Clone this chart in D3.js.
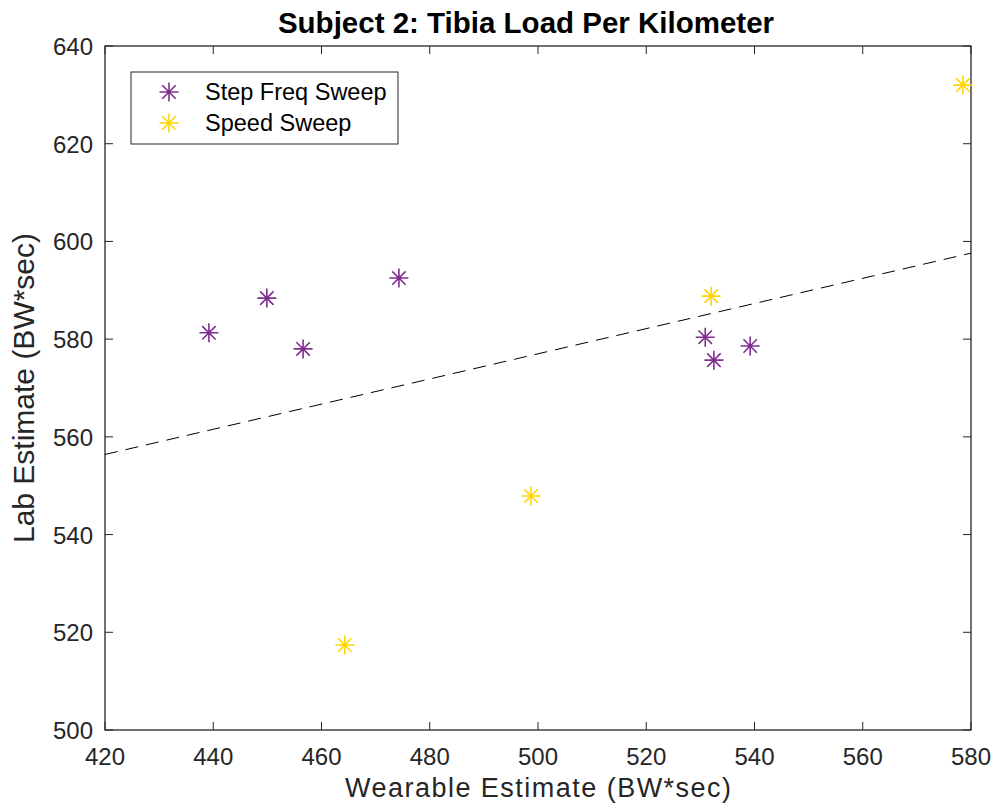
<!DOCTYPE html>
<html><head><meta charset="utf-8">
<script src="https://cdn.jsdelivr.net/npm/d3@7"></script>
<style>body{margin:0;background:#fff}svg{display:block}</style>
</head><body>
<script>
const stepX = [439.2, 449.9, 456.6, 474.3, 530.9, 532.5, 539.2];
const stepY = [581.3, 588.4, 578.0, 592.5, 580.4, 575.7, 578.6];
const speedX = [578.5, 532.0, 498.7, 464.3];
const speedY = [632.0, 588.8, 547.9, 517.4];
const fitX = [420, 580];
const fitY = [556.4, 597.6];
const xTicks = [420, 440, 460, 480, 500, 520, 540, 560, 580];
const yTicks = [500, 520, 540, 560, 580, 600, 620, 640];
const seriesNames = ["Step Freq Sweep", "Speed Sweep"];
const colors = ["#7E2F8E", "#FFD500"];

const W = 998, H = 812;
const m = {l: 105, t: 46, r: 971, b: 730};
const svg = d3.select("body").append("svg").attr("width", W).attr("height", H)
  .style("font-family", "'Liberation Sans', Arial, Helvetica, sans-serif");

const x = d3.scaleLinear().domain([420, 580]).range([m.l, m.r]);
const y = d3.scaleLinear().domain([500, 640]).range([m.b, m.t]);
const axColor = "#262626";

// ticks on all four sides (inward)
const tl = 8;
const g = svg.append("g").attr("stroke", axColor).attr("stroke-width", 1);
xTicks.forEach(v => {
  g.append("line").attr("x1", x(v)).attr("x2", x(v)).attr("y1", m.b).attr("y2", m.b - tl);
  g.append("line").attr("x1", x(v)).attr("x2", x(v)).attr("y1", m.t).attr("y2", m.t + tl);
});
yTicks.forEach(v => {
  g.append("line").attr("y1", y(v)).attr("y2", y(v)).attr("x1", m.l).attr("x2", m.l + tl);
  g.append("line").attr("y1", y(v)).attr("y2", y(v)).attr("x1", m.r).attr("x2", m.r - tl);
});
svg.append("rect").attr("x", m.l).attr("y", m.t).attr("width", m.r - m.l).attr("height", m.b - m.t)
  .attr("fill", "none").attr("stroke", axColor).attr("stroke-width", 1.3);

// tick labels
svg.append("g").selectAll("text").data(xTicks).join("text")
  .attr("x", d => x(d)).attr("y", 765).attr("text-anchor", "middle")
  .attr("font-size", 24).attr("fill", axColor).text(d => d);
svg.append("g").selectAll("text").data(yTicks).join("text")
  .attr("x", 93).attr("y", d => y(d) + 9).attr("text-anchor", "end")
  .attr("font-size", 24).attr("fill", axColor).text(d => d);

// axis titles
svg.append("text").attr("x", (m.l + m.r) / 2).attr("y", 797).attr("text-anchor", "middle")
  .attr("font-size", 27).attr("fill", axColor)
  .attr("textLength", 386).attr("lengthAdjust", "spacing").text("Wearable Estimate (BW*sec)");
svg.append("text").attr("transform", `translate(34,${(m.t + m.b) / 2}) rotate(-90)`)
  .attr("text-anchor", "middle").attr("font-size", 30).attr("fill", axColor).text("Lab Estimate (BW*sec)");
svg.append("text").attr("x", 526).attr("y", 33).attr("text-anchor", "middle")
  .attr("font-size", 29.5).attr("font-weight", "bold").attr("fill", "#000").text("Subject 2: Tibia Load Per Kilometer");

// fit line
svg.append("line").attr("x1", x(fitX[0])).attr("y1", y(fitY[0])).attr("x2", x(fitX[1])).attr("y2", y(fitY[1]))
  .attr("stroke", "#000").attr("stroke-width", 1).attr("stroke-dasharray", "13,8");

// asterisk marker
function star(sel, cx, cy, col) {
  const r = 9.5, d = r * Math.SQRT1_2;
  const p = `M${cx - r},${cy}L${cx + r},${cy}M${cx},${cy - r}L${cx},${cy + r}` +
    `M${cx - d},${cy - d}L${cx + d},${cy + d}M${cx - d},${cy + d}L${cx + d},${cy - d}`;
  sel.append("path").attr("d", p).attr("stroke", col).attr("stroke-width", 1.6).attr("fill", "none");
}
const pg = svg.append("g");
stepX.forEach((v, i) => star(pg, x(v), y(stepY[i]), colors[0]));
speedX.forEach((v, i) => star(pg, x(v), y(speedY[i]), colors[1]));

// legend
const lg = svg.append("g");
lg.append("rect").attr("x", 131).attr("y", 72).attr("width", 267).attr("height", 72)
  .attr("fill", "#fff").attr("stroke", axColor).attr("stroke-width", 1);
seriesNames.forEach((n, i) => {
  const yy = 92 + i * 31;
  star(lg, 169, yy, colors[i]);
  lg.append("text").attr("x", 205).attr("y", yy + 8).attr("font-size", 23.5).attr("fill", "#000").text(n);
});
</script>
</body></html>
